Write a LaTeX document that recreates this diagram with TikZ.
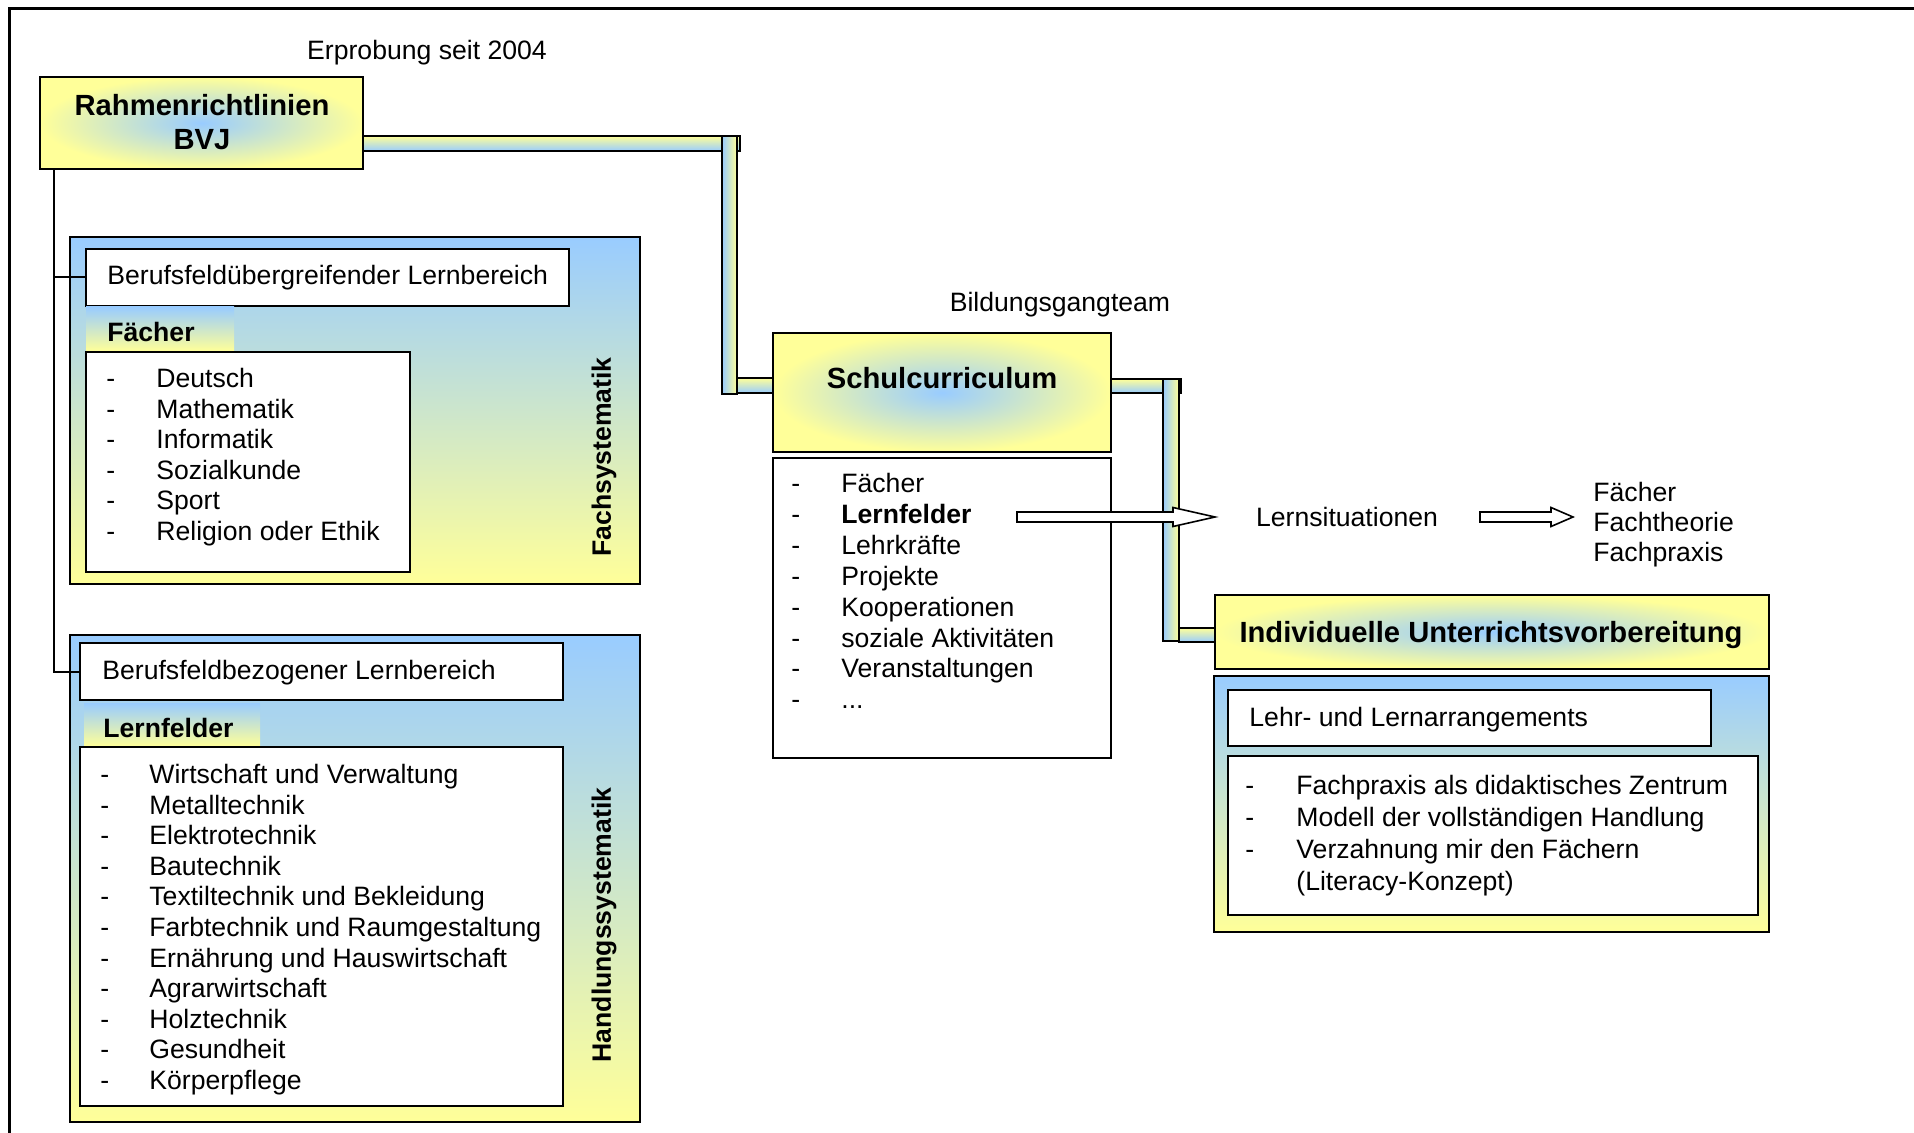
\documentclass[tikz,border=0pt]{standalone}
\usepackage{fontspec}
\setmainfont{Liberation Sans}
\usetikzlibrary{fit,calc}
\pgfdeclarelayer{background}
\pgfsetlayers{background,main}
\definecolor{ye}{RGB}{255,255,153}
\definecolor{bl}{RGB}{153,204,255}
\newcommand\fr{\fontsize{13.3}{15.3}\selectfont}
\newcommand\ftitle{\fontsize{14.6}{17}\selectfont\bfseries}
\newcommand\blockarr[3]{%
  \draw[blockarrow] ($(#1)+(0,-5)$) -- ($(#2)+(-#3,-5)$) -- ($(#2)+(-#3,-9.5)$) -- (#2)
    -- ($(#2)+(-#3,9.5)$) -- ($(#2)+(-#3,5)$) -- ($(#1)+(0,5)$) -- cycle;}
\tikzset{
  bx/.style={inner sep=0pt, outer sep=0pt, line width=1pt, draw=black},
  whitebox/.style={bx, fill=white},
  headbox/.style={bx, inner color=bl, outer color=ye},
  gradbox/.style={bx, top color=bl, bottom color=ye},
  lbl/.style={inner sep=0pt, outer sep=0pt, top color=bl, bottom color=ye},
  txt/.style={inner sep=0pt, font=\fr},
  bld/.style={inner sep=0pt, font=\fr\bfseries},
  ttl/.style={inner sep=0pt, font=\ftitle},
  pipeh/.style={draw=black, line width=0.8pt, top color=ye, bottom color=bl},
  pipev/.style={draw=black, line width=0.8pt, left color=bl, right color=ye},
  tree/.style={line width=1pt},
  blockarrow/.style={draw=black, fill=white, line width=0.8pt, line join=miter},
  frameline/.style={line width=1.2pt}
}
\begin{document}
\begin{tikzpicture}[x=0.5pt,y=-0.5pt]
\useasboundingbox (0,0) rectangle (1914,1133);
\draw[frameline] (9.5,1133) -- (9.5,8.5) -- (1914,8.5);

% boxes
\node[headbox, fit={(40,77) (363,169)}] (rahmen) {};
\node[headbox, fit={(773,333) (1111,452)}] (sc) {};
\node[whitebox, fit={(773,458) (1111,758)}] (sclist) {};
\node[headbox, fit={(1215,595) (1769,669)}] (iuv) {};
\node[gradbox, fit={(1214,676) (1769,932)}] (lehr) {};
\node[whitebox, fit={(1228,690) (1711,746)}] (lehrhead) {};
\node[whitebox, fit={(1228,756) (1758,915)}] (lehrlist) {};
\node[gradbox, fit={(70,237) (640,584)}] (fach) {};
\node[whitebox, fit={(86,249) (569,306)}] (fachhead) {};
\node[lbl, fit={(86,307) (234,351)}] (faecherbg) {};
\node[whitebox, fit={(86,352) (410,572)}] (faecherlist) {};
\node[gradbox, fit={(70,635) (640,1122)}] (hand) {};
\node[whitebox, fit={(80,643) (563,700)}] (handhead) {};
\node[lbl, fit={(84,703) (260,746)}] (lernfelderbg) {};
\node[whitebox, fit={(80,747) (563,1106)}] (handlist) {};

% texts
\node[txt, anchor=base] (erprobung) at (427,60) {Erprobung seit 2004};
\node[ttl, align=center] (rahmentext) at (202,122) {Rahmenrichtlinien\\BVJ};
\node[ttl, anchor=base] (sctext) at (942,388.5) {Schulcurriculum};
\node[txt, anchor=base] (bgt) at (1060,311.5) {Bildungsgangteam};
\node[txt, anchor=base west, font=\fontsize{13.3}{15.45}\selectfont] (sclisttext) at (791,492.5)
  {\begin{tabular}[t]{@{}p{25pt}@{}l@{}}
  -&Fächer\\ -&\textbf{Lernfelder}\\ -&Lehrkräfte\\ -&Projekte\\ -&Kooperationen\\
  -&soziale Aktivitäten\\ -&Veranstaltungen\\ -&...\end{tabular}};
\node[txt, anchor=base] (lernsit) at (1347,526.5) {Lernsituationen};
\node[txt, anchor=base west, font=\fontsize{13.3}{15}\selectfont] (faecher2) at (1593,501.5)
  {\begin{tabular}[t]{@{}l@{}}Fächer\\ Fachtheorie\\ Fachpraxis\end{tabular}};
\node[ttl, anchor=base] (iuvtext) at (1491,642.5) {Individuelle Unterrichtsvorbereitung};
\node[txt, anchor=base west] (lehrheadtext) at (1249,726.5) {Lehr- und Lernarrangements};
\node[txt, anchor=base west, font=\fontsize{13.3}{16}\selectfont] (lehrlisttext) at (1245,794.5)
  {\begin{tabular}[t]{@{}p{25.5pt}@{}l@{}}
  -&Fachpraxis als didaktisches Zentrum\\ -&Modell der vollständigen Handlung\\
  -&Verzahnung mir den Fächern\\ &(Literacy-Konzept)\end{tabular}};
\node[txt, anchor=base west] (fachheadtext) at (107,284.5) {Berufsfeldübergreifender Lernbereich};
\node[bld, anchor=base west] (faecherlbl) at (107,341.5) {Fächer};
\node[txt, anchor=base west] (faecherlisttext) at (106,387.5)
  {\begin{tabular}[t]{@{}p{25pt}@{}l@{}}
  -&Deutsch\\ -&Mathematik\\ -&Informatik\\ -&Sozialkunde\\ -&Sport\\ -&Religion oder Ethik\end{tabular}};
\node[bld, rotate=90] (fachsys) at (604,457) {Fachsystematik};
\node[txt, anchor=base west] (handheadtext) at (102,679.5) {Berufsfeldbezogener Lernbereich};
\node[bld, anchor=base west] (lernfelderlbl) at (103,737.5) {Lernfelder};
\node[txt, anchor=base west] (handlisttext) at (100,783.5)
  {\begin{tabular}[t]{@{}p{24.5pt}@{}l@{}}
  -&Wirtschaft und Verwaltung\\ -&Metalltechnik\\ -&Elektrotechnik\\ -&Bautechnik\\
  -&Textiltechnik und Bekleidung\\ -&Farbtechnik und Raumgestaltung\\
  -&Ernährung und Hauswirtschaft\\ -&Agrarwirtschaft\\ -&Holztechnik\\
  -&Gesundheit\\ -&Körperpflege\end{tabular}};
\node[bld, rotate=90] (handsys) at (604,925) {Handlungssystematik};

% tree connector
\coordinate (trunk) at ([xshift=7pt]rahmen.south west);
\draw[tree] (trunk) |- (handhead.west);
\draw[tree] (trunk |- fachhead.west) -- (fachhead.west);

% pipes
\begin{pgfonlayer}{background}
\draw[pipeh] (rahmen.east |- 0,136) rectangle (740,151);
\draw[pipev] (722,136) rectangle (737,394);
\draw[pipeh] (737,378) rectangle (sc.west |- 0,393);
\draw[pipeh] (sc.east |- 0,379) rectangle (1181,393);
\draw[pipev] (1163,379) rectangle (1179,641);
\draw[pipeh] (1179,628) rectangle (iuv.west |- 0,642);
\end{pgfonlayer}

% block arrows
\coordinate (a1s) at (1017,517);
\coordinate (a1e) at (1215,517);
\coordinate (a2s) at (1480,517);
\coordinate (a2e) at (1573,517);
\blockarr{a1s}{a1e}{42}
\blockarr{a2s}{a2e}{22}
\end{tikzpicture}
\end{document}
